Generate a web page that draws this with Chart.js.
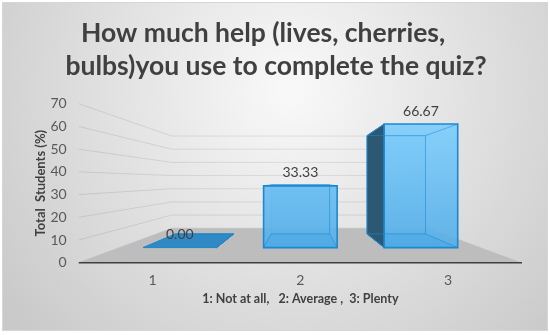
<!DOCTYPE html>
<html>
<head>
<meta charset="utf-8">
<script src="https://cdn.jsdelivr.net/npm/chart.js@4/dist/chart.umd.min.js"></script>
<style>
  html, body { margin: 0; padding: 0; background: #fff; }
  #wrap { width: 550px; height: 335px; }
</style>
</head>
<body>
<div id="wrap"><canvas id="myChart"></canvas></div>
<script>
const categories = ['1', '2', '3'];
const percents = [0, 33.33, 66.67];
const yTicks = [0, 10, 20, 30, 40, 50, 60, 70];

// perspective settings for the fake 3D look
const depth = { floor: 0.58, front: 0.816, back: 0.649, horizon: 0.484 };

function projector(chart) {
    const ca = chart.chartArea;
    const vx = (ca.left + ca.right) / 2;
    const vy = ca.top + (ca.bottom - ca.top) * depth.horizon;
    return function (x, y, s) {
        return [vx + (x - vx) * s, vy + (y - vy) * s];
    };
}

function poly(ctx, pts) {
    ctx.beginPath();
    ctx.moveTo(pts[0][0], pts[0][1]);
    for (let i = 1; i < pts.length; i++) ctx.lineTo(pts[i][0], pts[i][1]);
    ctx.closePath();
}

const backdrop = {
    id: 'backdrop',
    beforeDraw(chart) {
        const ctx = chart.ctx;
        const w = chart.width, h = chart.height;
        ctx.save();
        ctx.fillStyle = '#ffffff';
        ctx.fillRect(0, 0, w, h);
        const g = ctx.createRadialGradient(290, 90, 10, 290, 90, 360);
        g.addColorStop(0, '#f8f8f8');
        g.addColorStop(1, '#c9c9c9');
        ctx.fillStyle = g;
        ctx.fillRect(3, 3, w - 6, h - 8);
        ctx.strokeStyle = '#d6d6d6';
        ctx.lineWidth = 1;
        ctx.strokeRect(2.5, 2.5, w - 5, h - 7);
        ctx.restore();
    }
};

const walls = {
    id: 'walls',
    beforeDatasetsDraw(chart) {
        const ctx = chart.ctx;
        const ca = chart.chartArea;
        const y = chart.scales.y;
        const P = projector(chart);
        ctx.save();
        // gridlines on side wall and back wall
        ctx.strokeStyle = 'rgba(0,0,0,0.09)';
        ctx.lineWidth = 1;
        yTicks.forEach(v => {
            const py = y.getPixelForValue(v);
            const a = P(ca.left, py, 1);
            const b = P(ca.left, py, depth.floor);
            const c = P(ca.right, py, depth.floor);
            ctx.beginPath();
            ctx.moveTo(a[0], a[1]);
            ctx.lineTo(b[0], b[1]);
            ctx.lineTo(c[0], c[1]);
            ctx.stroke();
        });
        // floor
        const base = y.getPixelForValue(0);
        poly(ctx, [P(ca.left, base, 1), P(ca.right, base, 1), P(ca.right, base, depth.floor), P(ca.left, base, depth.floor)]);
        ctx.fillStyle = '#bdbdbd';
        ctx.fill();
        // front axis line
        ctx.strokeStyle = '#3f3f3f';
        ctx.lineWidth = 1.5;
        ctx.beginPath();
        ctx.moveTo(ca.left, base);
        ctx.lineTo(ca.right, base);
        ctx.stroke();
        ctx.restore();
    }
};

const boxes = {
    id: 'boxes',
    afterDatasetsDraw(chart) {
        const ctx = chart.ctx;
        const ca = chart.chartArea;
        const P = projector(chart);
        const vx = (ca.left + ca.right) / 2;
        const meta = chart.getDatasetMeta(0);
        ctx.save();
        meta.data.forEach((bar, i) => {
            const p = bar.getProps(['x', 'y', 'base', 'width'], true);
            const x0 = p.x - p.width / 2, x1 = p.x + p.width / 2;
            const yt = p.y, yb = p.base;
            const f = depth.front, k = depth.back;
            const Ftl = P(x0, yt, f), Ftr = P(x1, yt, f), Fbr = P(x1, yb, f), Fbl = P(x0, yb, f);
            const Btl = P(x0, yt, k), Btr = P(x1, yt, k), Bbr = P(x1, yb, k), Bbl = P(x0, yb, k);
            const edge = 'rgba(30,140,210,0.55)';

            // back face
            poly(ctx, [Btl, Btr, Bbr, Bbl]);
            ctx.fillStyle = 'rgba(90,180,235,0.35)';
            ctx.fill();
            ctx.strokeStyle = edge;
            ctx.lineWidth = 1;
            ctx.stroke();
            // bottom face
            poly(ctx, [Fbl, Fbr, Bbr, Bbl]);
            ctx.fillStyle = 'rgba(40,134,196,0.95)';
            ctx.fill();
            ctx.strokeStyle = '#1f86c8';
            ctx.stroke();
            // dark side face facing the centre
            if (x0 > vx) {
                poly(ctx, [Ftl, Btl, Bbl, Fbl]);
                ctx.fillStyle = '#2d5873';
                ctx.fill();
                ctx.strokeStyle = '#1f86c8';
                ctx.stroke();
            } else if (x1 < vx) {
                poly(ctx, [Ftr, Btr, Bbr, Fbr]);
                ctx.fillStyle = '#2d5873';
                ctx.fill();
                ctx.strokeStyle = '#1f86c8';
                ctx.stroke();
            }
            // front face
            if (yb - yt > 0.5) {
                const g = ctx.createLinearGradient(0, ca.top, 0, ca.bottom);
                g.addColorStop(0, 'rgba(130,210,255,0.9)');
                g.addColorStop(1, 'rgba(80,170,230,0.9)');
                poly(ctx, [Ftl, Ftr, Fbr, Fbl]);
                ctx.fillStyle = g;
                ctx.fill();
                // inner depth edges seen through the face
                ctx.strokeStyle = edge;
                ctx.lineWidth = 1;
                [[Ftl, Btl], [Ftr, Btr], [Fbr, Bbr], [Fbl, Bbl]].forEach(s => {
                    ctx.beginPath();
                    ctx.moveTo(s[0][0], s[0][1]);
                    ctx.lineTo(s[1][0], s[1][1]);
                    ctx.stroke();
                });
                ctx.beginPath();
                ctx.moveTo(Btl[0], Btl[1]); ctx.lineTo(Btr[0], Btr[1]);
                ctx.lineTo(Bbr[0], Bbr[1]); ctx.lineTo(Bbl[0], Bbl[1]);
                ctx.stroke();
                poly(ctx, [Ftl, Ftr, Fbr, Fbl]);
                ctx.strokeStyle = '#1b88d0';
                ctx.lineWidth = 1.6;
                ctx.stroke();
            }
            // value label
            const top = P(p.x, yt, f);
            ctx.fillStyle = '#404040';
            ctx.font = '14px Lato';
            ctx.textAlign = 'center';
            ctx.textBaseline = 'middle';
            ctx.fillText(percents[i].toFixed(2), top[0], top[1] - 13);
        });
        ctx.restore();
    }
};

const config = {
    type: 'bar',
    data: {
        labels: categories,
        datasets: [{
            data: percents,
            backgroundColor: 'rgba(0,0,0,0)',
            borderWidth: 0,
            categoryPercentage: 1,
            barPercentage: 0.61,
        }]
    },
    options: {
        responsive: true,
        maintainAspectRatio: false,
        animation: false,
        layout: {
            padding: { top: 0, left: 30, right: 28, bottom: 26.5 }
        },
        plugins: {
            legend: { display: false },
            tooltip: { enabled: false },
            title: {
                display: true,
                text: ['How much help (lives, cherries,    ', 'bulbs)you use to complete the quiz?'],
                color: '#404040',
                font: { family: 'Lato', size: 26.5, weight: 'bold', lineHeight: 1.24 },
                padding: { top: 17, bottom: 21 }
            }
        },
        scales: {
            x: {
                grid: { display: false, drawTicks: false },
                border: { display: false },
                ticks: { color: '#595959', font: { family: 'Lato', size: 14 }, padding: 9 },
                title: {
                    display: true,
                    text: '1: Not at all,   2: Average ,  3: Plenty',
                    color: '#404040',
                    font: { family: 'Lato', size: 12.5, weight: 'bold' },
                    padding: { top: -6, bottom: 2 }
                }
            },
            y: {
                min: 0,
                max: 70,
                grid: { display: false, drawTicks: false },
                border: { display: false },
                ticks: { stepSize: 10, color: '#595959', font: { family: 'Lato', size: 14 }, padding: 12 },
                title: {
                    display: true,
                    text: 'Total  Students (%)',
                    color: '#404040',
                    font: { family: 'Lato', size: 13, weight: 'bold' },
                    padding: { top: 3.2, bottom: -10.3 }
                }
            }
        }
    },
    plugins: [backdrop, walls, boxes]
};

const myChart = new Chart(document.getElementById('myChart'), config);
</script>
</body>
</html>
